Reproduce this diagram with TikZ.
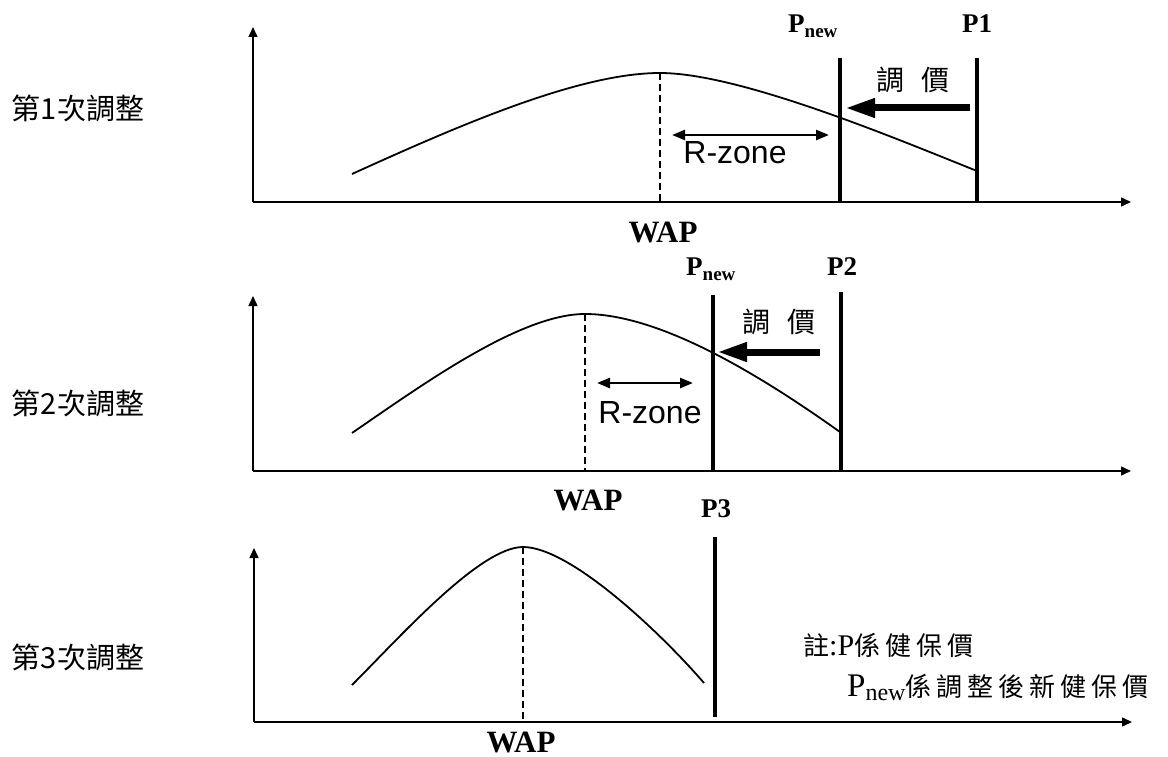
\documentclass[tikz,border=0pt]{standalone}
\usepackage{fontspec}
\setmainfont{Liberation Serif}
\newfontfamily\cjk{Noto Sans CJK TC}
\newfontfamily\arial{Liberation Sans}
\usetikzlibrary{arrows.meta}
\newcommand\kg{\hspace{5pt}}
\newcommand\pnewlabel{{\bfseries\fontsize{27}{27}\selectfont P\raisebox{-5pt}{\fontsize{19}{19}\selectfont new}}}
\begin{document}
\begin{tikzpicture}[x=1pt,y=-1pt,
  axis/.style={line width=1.4pt,-{Triangle[length=10pt,width=9pt]}},
  curve/.style={line width=1.8pt},
  wapline/.style={line width=1.2pt,dash pattern=on 7pt off 4pt},
  priceline/.style={line width=4pt},
  adjarrow/.style={line width=7pt,-{Triangle[length=30pt,width=18pt]}},
  zonearrow/.style={line width=2.5pt,{Triangle[length=13pt,width=10pt]}-{Triangle[length=13pt,width=10pt]}},
  rowlabel/.style={inner sep=0pt,font=\cjk\fontsize{29}{29}\selectfont},
  adjlabel/.style={inner sep=0pt,font=\cjk\fontsize{28}{28}\selectfont},
  zonelabel/.style={inner sep=0pt,font=\arial\fontsize{32}{32}\selectfont},
  waplabel/.style={inner sep=0pt,font=\bfseries\fontsize{31}{31}\selectfont},
  plabel/.style={inner sep=0pt,anchor=base,font=\bfseries\fontsize{27}{27}\selectfont},
  pnew/.style={inner sep=0pt,anchor=base west},
  notelabel/.style={inner sep=0pt,anchor=west}
]
\fill[white] (0,0) rectangle (1168,757);
\useasboundingbox (0,0) rectangle (1168,757);

% ---------------- Panel 1 ----------------
\coordinate (o1) at (253,202);
\coordinate (y1) at (253,27);
\coordinate (x1) at (1131,202);
\draw[axis] (o1) -- (y1);
\draw[axis] (o1) -- (x1);
\coordinate (c1s) at (352,174);
\coordinate (w1) at (660,73);
\coordinate (c1e) at (977,171);
\draw[curve] (c1s) .. controls (462,124) and (580,73) .. (w1)
                   .. controls (740,73) and (897,139) .. (c1e);
\draw[wapline] (w1) -- (w1 |- o1);
\coordinate (n1) at (840,58);
\draw[priceline] (n1) -- (n1 |- o1);
\coordinate (p1) at (977,58);
\draw[priceline] (p1) -- (p1 |- o1);
\coordinate (a1s) at (970,108);
\coordinate (a1e) at (845,108);
\draw[adjarrow] (a1s) -- (a1e);
\coordinate (z1a) at (672,135);
\coordinate (z1b) at (829,135);
\draw[zonearrow] (z1a) -- (z1b);
\node[rowlabel] (r1) at (78,108) {第1次調整};
\node[adjlabel] (t1) at (913,80) {調\hspace{18pt}價};
\node[zonelabel] (zl1) at (735,153) {R-zone};
\node[waplabel] (wl1) at (663,233) {WAP};
\node[pnew] (nl1) at (788,33) {\pnewlabel};
\node[plabel] (pl1) at (977,33) {P1};

% ---------------- Panel 2 ----------------
\coordinate (o2) at (253,471);
\coordinate (y2) at (253,296);
\coordinate (x2) at (1131,471);
\draw[axis] (o2) -- (y2);
\draw[axis] (o2) -- (x2);
\coordinate (c2s) at (352,433);
\coordinate (w2) at (585,314);
\coordinate (c2e) at (840,432);
\draw[curve] (c2s) .. controls (422,385) and (520,314) .. (w2)
                   .. controls (660,314) and (760,375) .. (c2e);
\draw[wapline] (w2) -- (w2 |- o2);
\coordinate (n2) at (713,295);
\draw[priceline] (n2) -- (n2 |- o2);
\coordinate (p2) at (841,292);
\draw[priceline] (p2) -- (p2 |- o2);
\coordinate (a2s) at (820,352);
\coordinate (a2e) at (717,352);
\draw[adjarrow] (a2s) -- (a2e);
\coordinate (z2a) at (597,383);
\coordinate (z2b) at (693,383);
\draw[zonearrow] (z2a) -- (z2b);
\node[rowlabel] (r2) at (78,403) {第2次調整};
\node[adjlabel] (t2) at (779,322) {調\hspace{18pt}價};
\node[zonelabel] (zl2) at (650,413) {R-zone};
\node[waplabel] (wl2) at (588,500) {WAP};
\node[pnew] (nl2) at (686,275) {\pnewlabel};
\node[plabel] (pl2) at (842,275) {P2};

% ---------------- Panel 3 ----------------
\coordinate (o3) at (254,722);
\coordinate (y3) at (254,548);
\coordinate (x3) at (1132,722);
\draw[axis] (o3) -- (y3);
\draw[axis] (o3) -- (x3);
\coordinate (c3s) at (352,685);
\coordinate (w3) at (523,547);
\coordinate (c3e) at (704,683);
\draw[curve] (c3s) .. controls (400,637) and (480,547) .. (w3)
                   .. controls (570,547) and (660,632) .. (c3e);
\draw[wapline] (w3) -- (w3 |- o3);
\coordinate (p3t) at (715,537);
\coordinate (p3b) at (715,717);
\draw[priceline] (p3t) -- (p3b);
\node[rowlabel] (r3) at (78,657) {第3次調整};
\node[waplabel] (wl3) at (521,742) {WAP};
\node[plabel] (pl3) at (716,517) {P3};

% ---------------- Note ----------------
\node[notelabel] (note1) at (803,645) {{\cjk\fontsize{26}{26}\selectfont 註}{\fontsize{30}{30}\selectfont :P}{\cjk\fontsize{26}{26}\selectfont 係\kg 健\kg 保\kg 價}};
\node[notelabel] (note2) at (847,687) {{\fontsize{33}{33}\selectfont P}\raisebox{-4pt}{\fontsize{24}{24}\selectfont new}{\cjk\fontsize{26}{26}\selectfont 係\kg 調\kg 整\kg 後\kg 新\kg 健\kg 保\kg 價}};
\end{tikzpicture}
\end{document}
